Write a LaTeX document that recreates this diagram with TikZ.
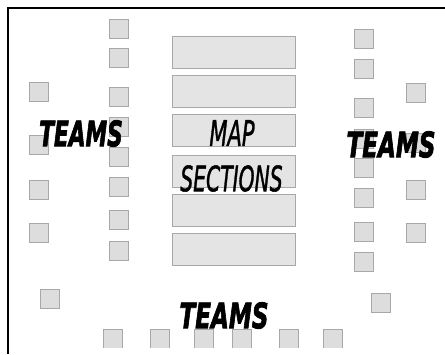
\documentclass[tikz,border=0pt]{standalone}
\usepackage{fontspec}
\setmainfont{DejaVu Sans}
\newfontfamily\teamsfont{DejaVu Sans}[BoldItalicFeatures={FakeBold=2.5}]
\newfontfamily\mapfont{DejaVu Sans}[ItalicFeatures={FakeBold=1.5}]
\definecolor{sqfill}{HTML}{DDDDDD}
\definecolor{sqline}{HTML}{A8A8A8}
\tikzset{
  seat/.style={fill=sqfill, draw=sqline, line width=0.8pt},
  mapsec/.style={fill=sqfill!80!white, draw=sqline, line width=0.8pt},
  teamlabel/.style={inner sep=0pt, font=\teamsfont\fontsize{35}{35}\selectfont\bfseries\itshape},
  maplabel/.style={inner sep=0pt, font=\mapfont\fontsize{35}{35}\selectfont\itshape},
}
\begin{document}
\begin{tikzpicture}[x=1pt,y=-1pt]
\useasboundingbox (0,0) rectangle (445,354);
\fill[white] (0,0) rectangle (445,354);
% seats (squares)
\foreach \y in {82,135,180,223} \draw[seat] (29,\y) rectangle ++(19,19);
\foreach \y in {19,48,87,117,147,177,210,241} \draw[seat] (109,\y) rectangle ++(19,19);
\foreach \y in {29,59,98,129,158,188,222,252} \draw[seat] (354,\y) rectangle ++(19,19);
\foreach \y in {83,133,180,223} \draw[seat] (406,\y) rectangle ++(19,19);
\draw[seat] (40,289) rectangle ++(19,19);
\draw[seat] (371,293) rectangle ++(19,19);
\foreach \x in {103,150,194,232,279,323} {
  \fill[sqfill] (\x,329) rectangle ++(19,19);
  \draw[sqline, line width=0.8pt] (\x,348) -- (\x,329) -- ++(19,0) -- ++(0,19);
}
% map sections
\foreach \y in {36,75,114,155,194,233} \draw[mapsec] (172,\y) rectangle ++(123,32);
% frame
\draw[line width=2pt] (445,8) -- (8,8) -- (8,354);
% labels
\node[teamlabel] (tl) at (81,133.5) {\scalebox{0.62}[1]{TEAMS}};
\node[teamlabel] (tr) at (391,144.5) {\scalebox{0.66}[1]{TEAMS}};
\node[teamlabel] (tb) at (224,315.5) {\scalebox{0.66}[1]{TEAMS}};
\node[maplabel] (map) at (232,133) {\scalebox{0.6}[1]{MAP}};
\node[maplabel] (sec) at (231.5,178.5) {\scalebox{0.58}[1]{SECTIONS}};
\end{tikzpicture}
\end{document}
